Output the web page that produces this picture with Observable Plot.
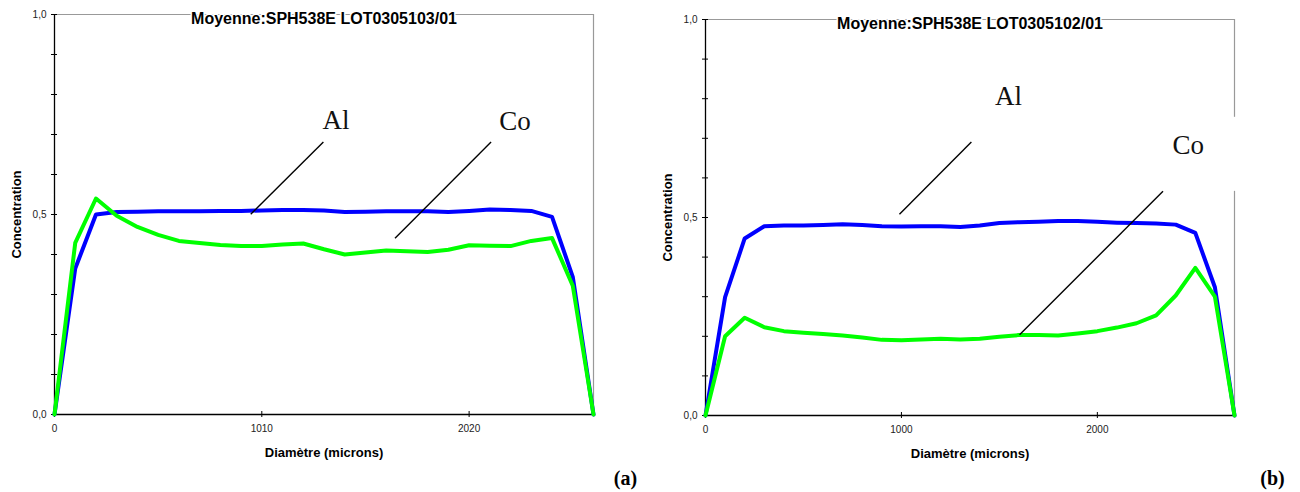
<!DOCTYPE html>
<html>
<head>
<meta charset="utf-8">
<script src="https://cdn.jsdelivr.net/npm/d3@7"></script>
<script src="https://cdn.jsdelivr.net/npm/@observablehq/plot@0.6"></script>
<style>
  html, body { margin: 0; padding: 0; background: #fff; }
  #wrap { width: 1300px; height: 492px; display: flex; flex-direction: row; overflow: hidden; }
  #wrap svg { display: block; }
</style>
</head>
<body>
<div id="wrap"></div>
<script>
// ---------- Panel (a) data ----------
const titleA = "Moyenne:SPH538E LOT0305103/01";
const diamA = [0,101,202,303,404,505,606,707,808,909,1010,1111,1212,1313,1414,1515,1616,1717,1818,1919,2020,2121,2222,2323,2424,2525,2626];
const alA = [0,0.365,0.500,0.506,0.507,0.508,0.508,0.508,0.509,0.509,0.510,0.511,0.5115,0.510,0.5065,0.507,0.508,0.508,0.508,0.5065,0.509,0.5125,0.511,0.509,0.494,0.344,0];
const coA = [0,0.429,0.540,0.497,0.469,0.449,0.434,0.429,0.424,0.421,0.421,0.425,0.4275,0.413,0.400,0.405,0.410,0.408,0.4065,0.412,0.423,0.422,0.421,0.434,0.441,0.322,0];
const xTicksA = [0,1010,2020];

// ---------- Panel (b) data ----------
const titleB = "Moyenne:SPH538E LOT0305102/01";
const diamB = [0,100,200,300,400,500,600,700,800,900,1000,1100,1200,1300,1400,1500,1600,1700,1800,1900,2000,2100,2200,2300,2400,2500,2600,2700];
const alB = [0,0.299,0.447,0.478,0.480,0.480,0.481,0.483,0.481,0.478,0.477,0.478,0.478,0.476,0.480,0.486,0.488,0.489,0.491,0.491,0.489,0.487,0.486,0.485,0.482,0.461,0.324,0];
const coB = [0,0.200,0.247,0.223,0.213,0.209,0.206,0.202,0.197,0.191,0.190,0.192,0.194,0.192,0.194,0.199,0.203,0.203,0.202,0.207,0.213,0.222,0.233,0.253,0.303,0.373,0.300,0];
const xTicksB = [0,1000,2000];

// ---------- shared ----------
const yTicks = [0,0.1,0.2,0.3,0.4,0.5,0.6,0.7,0.8,0.9,1.0];
const yLabelTicks = [0,0.5,1];
const xLabel = "Diamètre (microns)";
const yLabel = "Concentration";
const panelTags = ["(a)","(b)"];

// annotation geometry (data units)
const annotA = {
  labels: [{t:"Al", x:1372, y:0.736}, {t:"Co", x:2244, y:0.733}],
  leaders: [{x1:1310,y1:0.6815,x2:956,y2:0.5008}, {x1:2127,y1:0.6815,x2:1659,y2:0.4408}],
  rightBorder: [{y1:0, y2:1}]
};
const annotB = {
  labels: [{t:"Al", x:1546, y:0.806}, {t:"Co", x:2464, y:0.682}],
  leaders: [{x1:1357,y1:0.6907,x2:990,y2:0.508}, {x1:2335,y1:0.566,x2:1603,y2:0.204}],
  rightBorder: [{y1:0, y2:0.566}, {y1:0.753, y2:1}]
};

function fmtY(d) {
  return yLabelTicks.some(v => Math.abs(v - d) < 1e-9) ? d3.format(".1f")(d).replace(".", ",") : "";
}

function panel({title, diam, al, co, xTicks, annot, tag, margins, tagOffset}) {
  const data = diam.map((d, i) => ({d, al: al[i], co: co[i]}));
  const xmax = diam[diam.length - 1];
  return Plot.plot({
    width: 650,
    height: 492,
    marginLeft: margins.left,
    marginRight: margins.right,
    marginTop: margins.top,
    marginBottom: margins.bottom,
    x: {domain: [0, xmax], label: null},
    y: {domain: [0, 1], label: null},
    style: {fontFamily: "'Liberation Sans', Arial, sans-serif", fontSize: "10px", color: "#000", background: "#fff", overflow: "visible"},
    marks: [
      // frame (top & right, gray)
      Plot.ruleY([1], {stroke: "#999", strokeWidth: 1.2}),
      Plot.ruleX(annot.rightBorder, {x: xmax, y1: "y1", y2: "y2", stroke: "#999", strokeWidth: 1.2}),
      // y axis ticks (crossing)
      Plot.axisY({ticks: yTicks, tickSize: 3, tickPadding: 5, tickFormat: fmtY, label: null, fill: "#222"}),
      Plot.axisY({ticks: yTicks, tickSize: 3, tickFormat: () => "", dx: 3, label: null}),
      // x axis ticks (crossing)
      Plot.axisX({ticks: xTicks, tickSize: 3, tickPadding: 7, tickFormat: d => String(d), label: null, fill: "#222"}),
      Plot.axisX({ticks: xTicks, tickSize: 3, tickFormat: () => "", dy: -3, label: null}),
      // axis lines
      Plot.ruleX([0], {stroke: "#000", strokeWidth: 1.3}),
      Plot.ruleY([0], {stroke: "#000", strokeWidth: 1.3}),
      // data lines
      Plot.line(data, {x: "d", y: "al", stroke: "#0000ff", strokeWidth: 4}),
      Plot.line(data, {x: "d", y: "co", stroke: "#00ff00", strokeWidth: 4}),
      // leaders & labels
      Plot.link(annot.leaders, {x1: "x1", y1: "y1", x2: "x2", y2: "y2", stroke: "#000", strokeWidth: 1.4}),
      Plot.text(annot.labels, {x: "x", y: "y", text: "t", fontFamily: "'Liberation Serif', 'DejaVu Serif', serif", fontSize: 27, fill: "#111", lineAnchor: "middle"}),
      // title
      Plot.text([title], {frameAnchor: "top", dy: 4.5, lineAnchor: "middle", textAnchor: "middle", fontWeight: "bold", fontSize: 16, fill: "#000", stroke: "#fff", strokeWidth: 3}),
      // axis labels
      Plot.text([yLabel], {frameAnchor: "left", dx: -38, rotate: -90, textAnchor: "middle", fontWeight: "bold", fontSize: 13, lineAnchor: "middle", fill: "#000"}),
      Plot.text([xLabel], {frameAnchor: "bottom", dy: 38, textAnchor: "middle", fontWeight: "bold", fontSize: 13, lineAnchor: "middle", fill: "#000"}),
      // panel tag
      Plot.text([tag], {frameAnchor: "bottom-right", dx: tagOffset.dx, dy: tagOffset.dy, textAnchor: "middle", lineAnchor: "middle", fontFamily: "'Liberation Serif', serif", fontWeight: "bold", fontSize: 20, fill: "#000"})
    ]
  });
}

const wrap = document.getElementById("wrap");
wrap.appendChild(panel({
  title: titleA, diam: diamA, al: alA, co: coA, xTicks: xTicksA, annot: annotA, tag: panelTags[0],
  margins: {left: 54, right: 57, top: 14, bottom: 78},
  tagOffset: {dx: 32, dy: 64}
}));
wrap.appendChild(panel({
  title: titleB, diam: diamB, al: alB, co: coB, xTicks: xTicksB, annot: annotB, tag: panelTags[1],
  margins: {left: 55, right: 66, top: 19, bottom: 77},
  tagOffset: {dx: 38, dy: 63}
}));
</script>
</body>
</html>
